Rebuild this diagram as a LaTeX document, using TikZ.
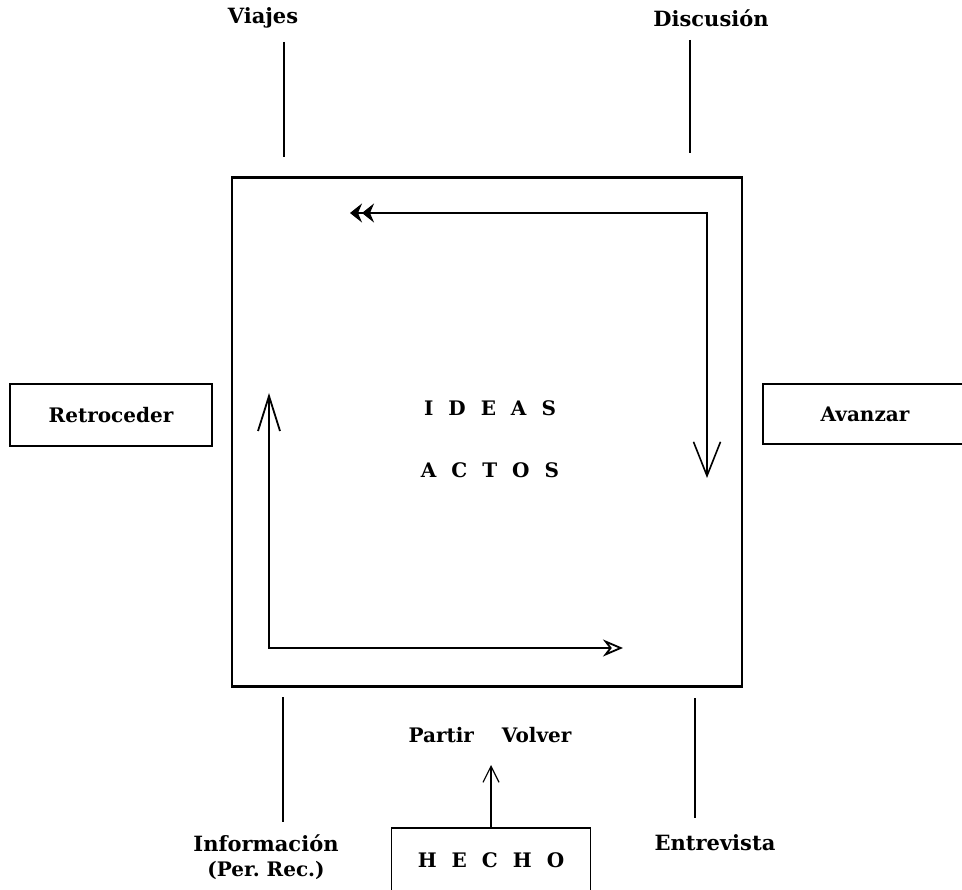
\documentclass[tikz,border=0pt]{standalone}
\usepackage{fontspec}
\setmainfont{DejaVu Serif}
\usepackage{tikz}
\usetikzlibrary{arrows.meta,positioning}
\newcommand{\lsp}{\hspace{15pt}}

\begin{document}
\begin{tikzpicture}
            [x=1pt,y=-1pt,
             text node/.style={font=\fontsize{20}{24}\selectfont\bfseries, inner sep=0pt},
             bold node/.style={font=\fontsize{21}{25}\selectfont\bfseries, inner sep=0pt},
             side box/.style={text node, draw, line width=1.4pt, minimum width=202pt, minimum height=62pt},
             wire/.style={line width=1.2pt},
             cycle line/.style={line width=1.3pt}]
            \useasboundingbox (0,0) rectangle (962,890);

            \node[draw, line width=2.8pt, minimum width=510pt, minimum height=509pt, inner sep=0pt] (marco) at (487,432) {};

            \node[bold node] (viajes) at (263,18) {Viajes};
            \node[bold node] (discusion) at (711,18) {Discusión};
            \node[bold node] (informacion) at (266,843) {Información};
            \node[text node, below=9pt of informacion] (perrec) {(Per.\ Rec.)};
            \node[bold node] (entrevista) at (715,843) {Entrevista};

            \node[side box] (retroceder) at (111,415) {Retroceder};
            \node[side box, minimum width=204pt, minimum height=60pt] (avanzar) at (865,414) {Avanzar};
            \node[side box, minimum width=199pt, minimum height=64pt] (hecho) at (491,860) {H\lsp E\lsp C\lsp H\lsp O};

            \node[text node] (ideas) at (490,408) {I\lsp D\lsp E\lsp A\lsp S};
            \node[text node] (actos) at (490,470) {A\lsp C\lsp T\lsp O\lsp S};
            \node[text node] (partir) at (490,735) {Partir\hspace{28pt}Volver};

            \coordinate (v1) at (284,42);   \coordinate (v2) at (284,157);
            \coordinate (d1) at (690,40);   \coordinate (d2) at (690,153);
            \coordinate (i1) at (283,697);  \coordinate (i2) at (283,822);
            \coordinate (e1) at (695,698);  \coordinate (e2) at (695,818);
            \coordinate (hv) at (491,765);

            \coordinate (tl) at (350,213);  \coordinate (tr) at (707,213);
            \coordinate (rb) at (707,478);
            \coordinate (lt) at (269,393);  \coordinate (bl) at (269,648);
            \coordinate (br) at (623,648);

            \draw[wire] (v1) -- (v2);
            \draw[wire] (d1) -- (d2);
            \draw[wire] (i1) -- (i2);
            \draw[wire] (e1) -- (e2);
            \draw[wire, -{Straight Barb[length=16pt,width=16pt,line width=1.2pt]}] (hecho.north) -- (hv);

            \draw[cycle line, {Stealth[length=12pt,width=19pt,inset=4pt]Stealth[length=12pt,width=19pt,inset=4pt]}-{Straight Barb[length=34pt,width=27pt,line width=1.6pt]}] (tl) -- (tr) -- (rb);
            \draw[cycle line, {Straight Barb[length=35pt,width=22pt,line width=1.8pt]}-{Stealth[length=20pt,width=17pt,open,line width=1.8pt]}] (lt) -- (bl) -- (br);
        \end{tikzpicture}
\end{document}
